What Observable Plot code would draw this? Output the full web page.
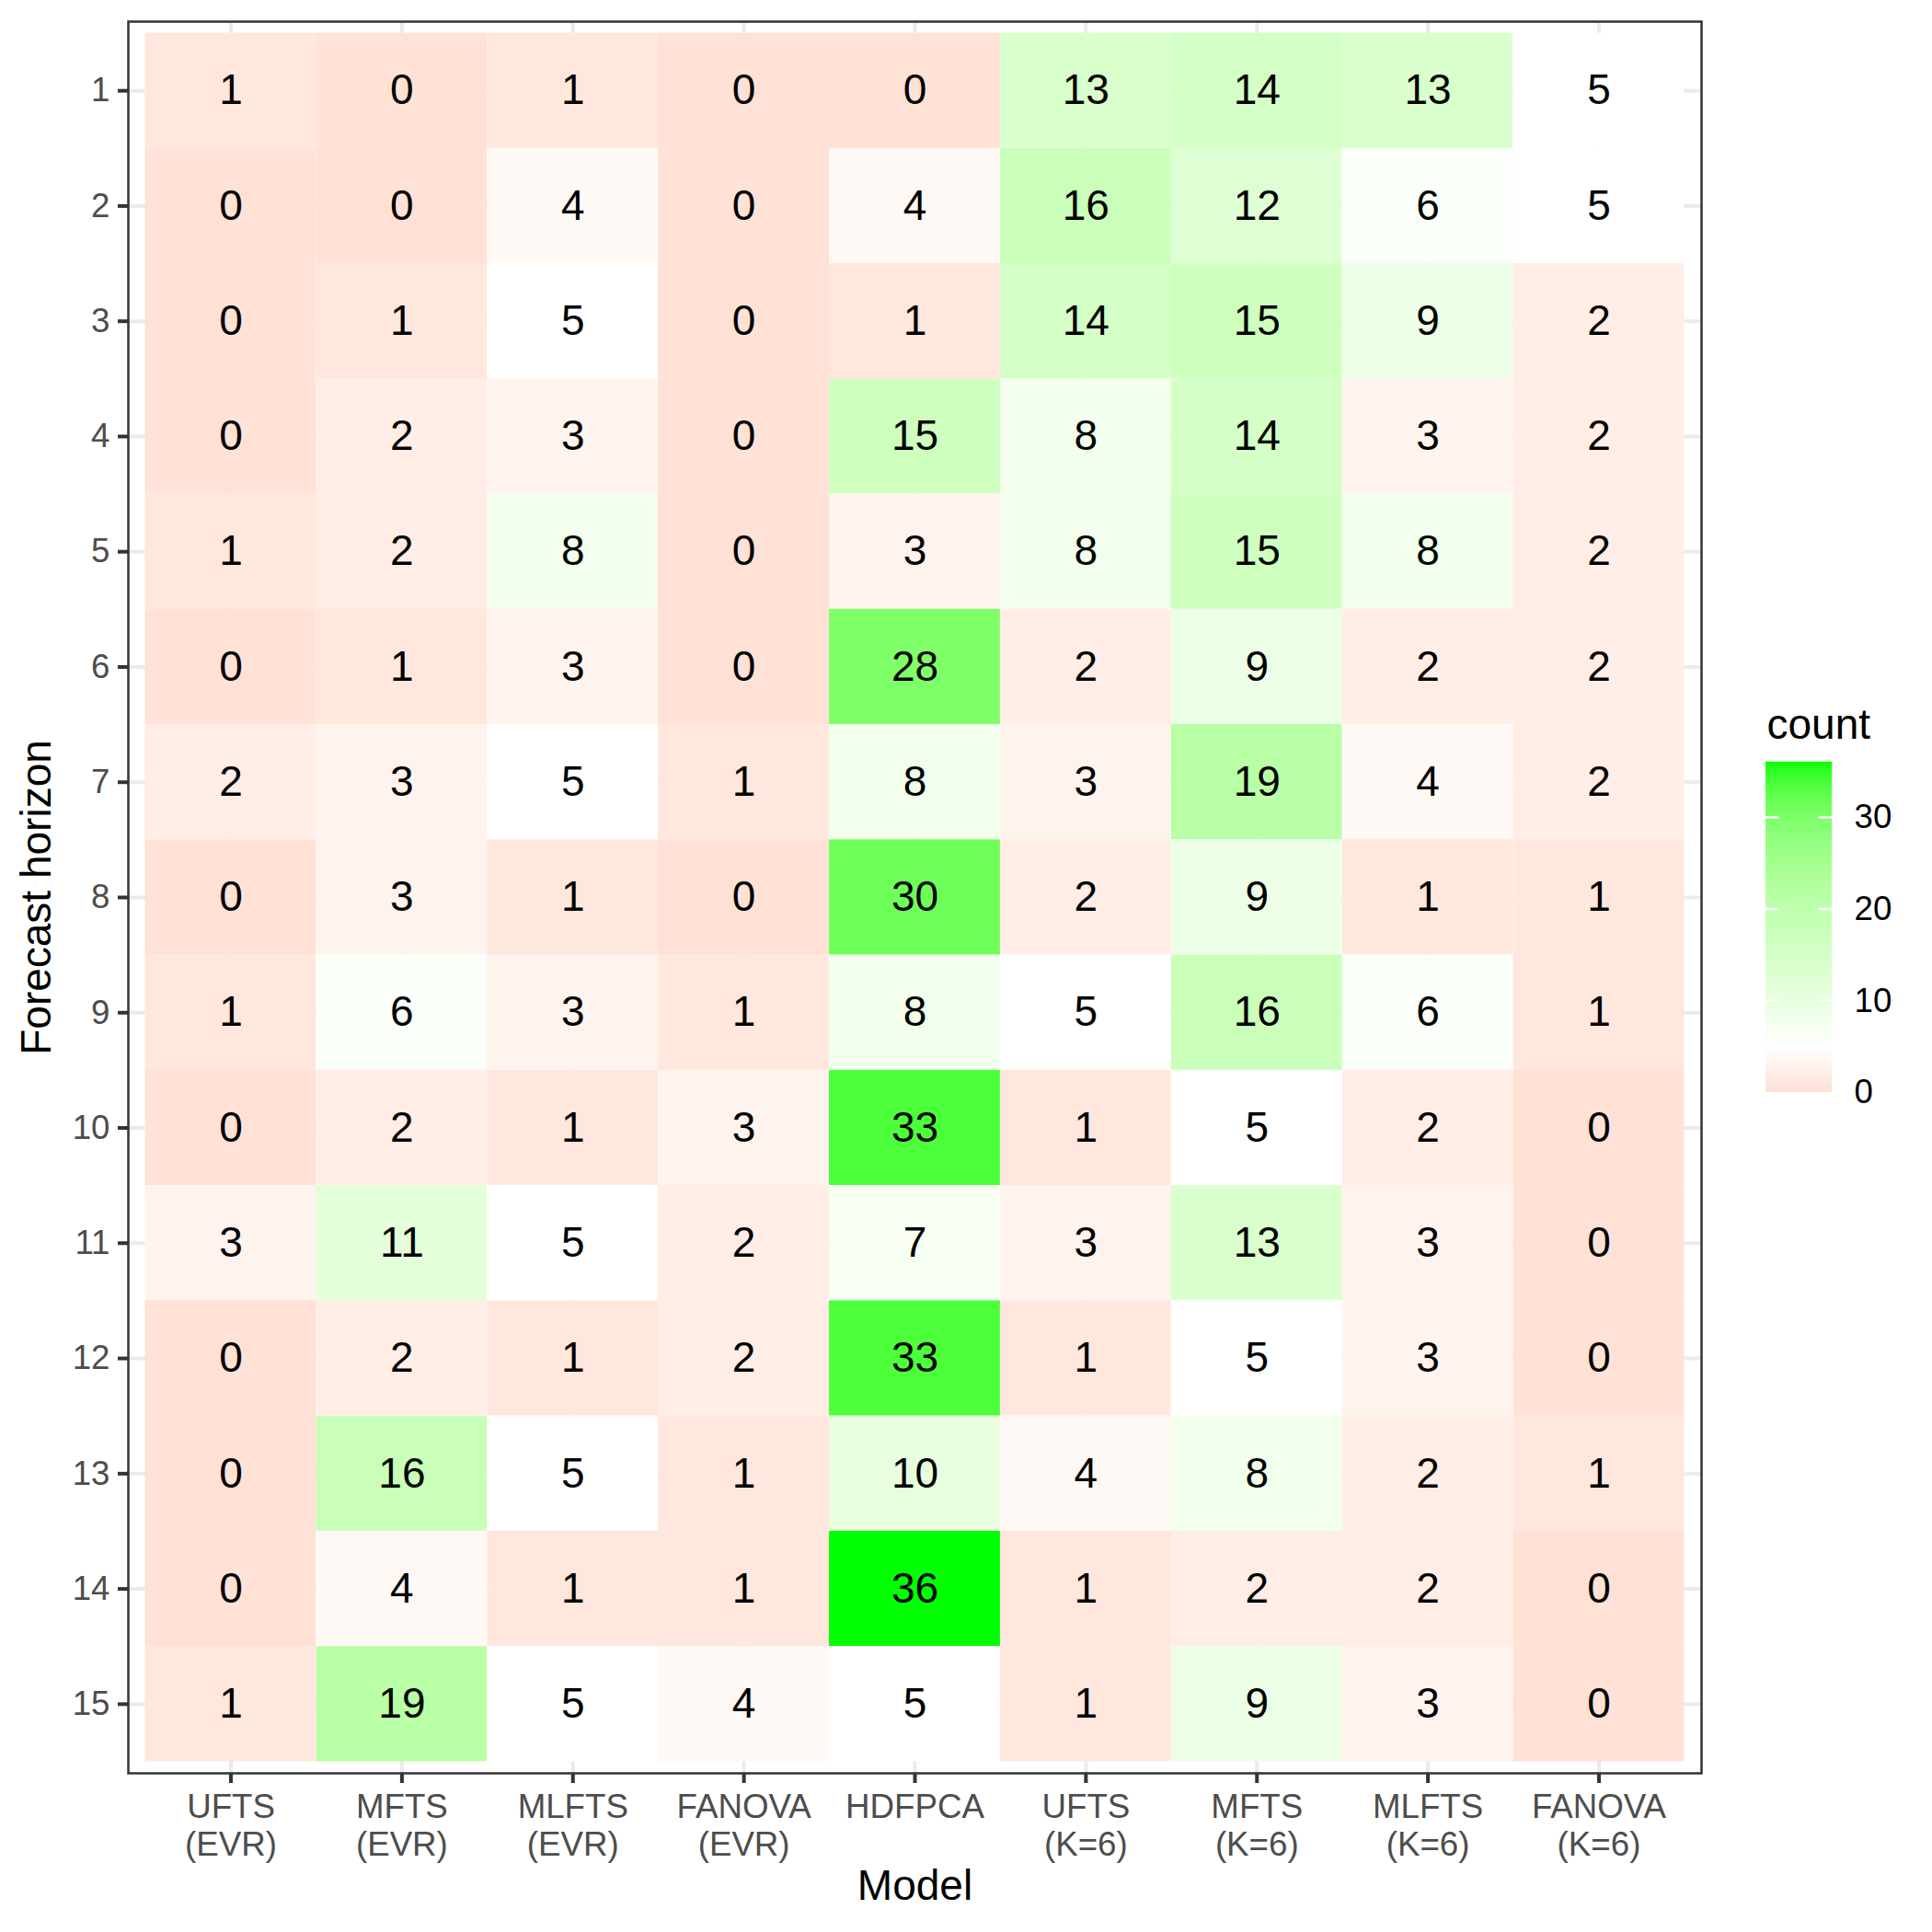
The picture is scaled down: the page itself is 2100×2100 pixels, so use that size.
<!DOCTYPE html>
<html>
<head>
<meta charset="utf-8">
<script src="https://cdn.jsdelivr.net/npm/d3@7"></script>
<script src="https://cdn.jsdelivr.net/npm/@observablehq/plot@0.6"></script>
<style>
  html, body { margin: 0; padding: 0; background: white; }
  #wrap { position: relative; width: 2100px; height: 2100px; font-family: "Liberation Sans", Arial, Helvetica, sans-serif; }
  #main { position: absolute; left: 0; top: 0; }
  #legend { position: absolute; left: 1919px; top: 728px; }
  svg { overflow: visible; }
</style>
</head>
<body>
<div id="wrap"><div id="main"></div><div id="legend"></div></div>
<script>
// Models (x categories)
const models = ["UFTS\n(EVR)", "MFTS\n(EVR)", "MLFTS\n(EVR)", "FANOVA\n(EVR)", "HDFPCA",
                "UFTS\n(K=6)", "MFTS\n(K=6)", "MLFTS\n(K=6)", "FANOVA\n(K=6)"];
// Forecast horizons (y categories)
const horizons = [1, 2, 3, 4, 5, 6, 7, 8, 9, 10, 11, 12, 13, 14, 15];
// Counts: one array per horizon, values in model order
const h1  = [1, 0, 1, 0, 0, 13, 14, 13, 5];
const h2  = [0, 0, 4, 0, 4, 16, 12, 6, 5];
const h3  = [0, 1, 5, 0, 1, 14, 15, 9, 2];
const h4  = [0, 2, 3, 0, 15, 8, 14, 3, 2];
const h5  = [1, 2, 8, 0, 3, 8, 15, 8, 2];
const h6  = [0, 1, 3, 0, 28, 2, 9, 2, 2];
const h7  = [2, 3, 5, 1, 8, 3, 19, 4, 2];
const h8  = [0, 3, 1, 0, 30, 2, 9, 1, 1];
const h9  = [1, 6, 3, 1, 8, 5, 16, 6, 1];
const h10 = [0, 2, 1, 3, 33, 1, 5, 2, 0];
const h11 = [3, 11, 5, 2, 7, 3, 13, 3, 0];
const h12 = [0, 2, 1, 2, 33, 1, 5, 3, 0];
const h13 = [0, 16, 5, 1, 10, 4, 8, 2, 1];
const h14 = [0, 4, 1, 1, 36, 1, 2, 2, 0];
const h15 = [1, 19, 5, 4, 5, 1, 9, 3, 0];
const rows = [h1, h2, h3, h4, h5, h6, h7, h8, h9, h10, h11, h12, h13, h14, h15];
// Legend ticks
const legendTicks = [0, 10, 20, 30];
const countMax = 36;
const midpoint = 5;

const data = [];
rows.forEach((r, i) => r.forEach((v, j) => data.push({h: horizons[i], m: models[j], count: v})));

// ggplot2 scale_fill_gradient2(low="red", mid="white", high="green", midpoint=5) equivalent
const span = Math.max(countMax - midpoint, midpoint - 0);
const colorSpec = {
  type: "linear",
  domain: [midpoint - span, midpoint, midpoint + span],
  range: ["red", "white", "#00ff00"],
  interpolate: "lab"
};

const FONT = "Liberation Sans, Arial, Helvetica, sans-serif";

const main = Plot.plot({
  width: 2100,
  height: 2100,
  marginLeft: 139,
  marginRight: 251,
  marginTop: 23,
  marginBottom: 173,
  style: {fontFamily: FONT, background: "white", overflow: "visible"},
  x: {type: "band", domain: models, paddingInner: 0, paddingOuter: 0.1, round: false, label: null},
  y: {type: "band", domain: horizons, paddingInner: 0, paddingOuter: 0.1, round: false, label: null},
  color: colorSpec,
  marks: [
    Plot.gridX({stroke: "#EBEBEB", strokeOpacity: 1, strokeWidth: 4}),
    Plot.gridY({stroke: "#EBEBEB", strokeOpacity: 1, strokeWidth: 4}),
    Plot.cell(data, {x: "m", y: "h", fill: "count", inset: 0}),
    Plot.text(data, {x: "m", y: "h", text: d => String(d.count), fontSize: 46, fill: "black"}),
    Plot.frame({stroke: "#333333", strokeWidth: 2.5}),
    Plot.axisY({tickSize: 11, tickPadding: 9, fontSize: 36.7, stroke: "#333333", strokeWidth: 4,
                fill: "#4D4D4D", label: null}),
    Plot.axisX({tickSize: 11, tickPadding: 9, fontSize: 36.7, stroke: "#333333", strokeWidth: 4,
                fill: "#4D4D4D", lineHeight: 1.1, label: null}),
    Plot.text(["Model"], {frameAnchor: "bottom", dy: 123, fontSize: 46, fill: "black", textAnchor: "middle", lineAnchor: "middle"}),
    Plot.text(["Forecast horizon"], {frameAnchor: "left", dx: -99, rotate: -90, fontSize: 46, fill: "black", textAnchor: "middle", lineAnchor: "middle"})
  ]
});
document.getElementById("main").appendChild(main);

// Legend (colour bar)
const steps = [];
for (let i = 0; i < 360; i++) { const a = i * countMax / 360; steps.push({y1: a, y2: a + countMax / 360 + 0.02, v: a + countMax / 720}); }
const legend = Plot.plot({
  width: 181,
  height: 359 + 100 + 40,
  marginLeft: 0,
  marginRight: 109,
  marginTop: 100,
  marginBottom: 40,
  style: {fontFamily: FONT, background: "transparent", overflow: "visible"},
  x: {domain: [0, 1], axis: null},
  y: {domain: [0, countMax], axis: null},
  color: colorSpec,
  marks: [
    Plot.rectY(steps, {x1: 0, x2: 1, y1: "y1", y2: "y2", fill: "v"}),
    Plot.ruleY(legendTicks.slice(1), {x1: 0, x2: 0.2, stroke: "white", strokeWidth: 2.5}),
    Plot.ruleY(legendTicks.slice(1), {x1: 0.8, x2: 1, stroke: "white", strokeWidth: 2.5}),
    Plot.axisY(legendTicks, {anchor: "right", tickSize: 0, tickPadding: 24, fontSize: 36.7, fill: "black", label: null}),
    Plot.text(["count"], {frameAnchor: "top-left", dy: -26, dx: 1, textAnchor: "start", lineAnchor: "bottom", fontSize: 46, fill: "black"})
  ]
});
document.getElementById("legend").appendChild(legend);
</script>
</body>
</html>
